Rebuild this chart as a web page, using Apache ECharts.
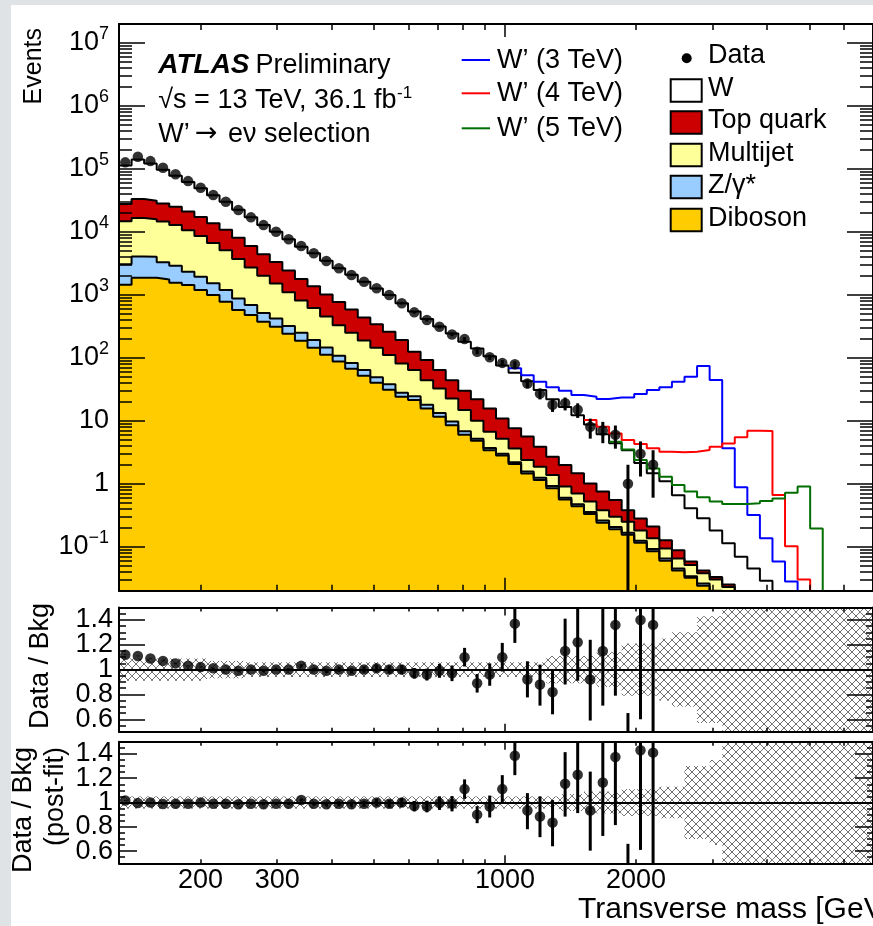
<!DOCTYPE html>
<html>
<head>
<meta charset="utf-8">
<title>W' to e nu transverse mass</title>
<script src="https://cdn.jsdelivr.net/npm/echarts@6/dist/echarts.min.js"></script>
<style>
html, body { margin: 0; padding: 0; background: #fff; }
#chart { width: 873px; height: 926px; }
</style>
</head>
<body>
<div id="chart"></div>
<script>
var dom = document.getElementById('chart');
var myChart = echarts.init(dom);

var FONT = '"Liberation Sans", Arial, Helvetica, sans-serif';

// 60 bins, equal width in log(mT), 130 GeV .. 7 TeV
var xMin = 130, xMax = 7000, nBins = 60;
var yMin = 0.02, yMax = 2e7;
var rMin = 0.5, rMax = 1.5;

// observed events per bin (bins 0..42)
var dataCounts = [127000, 156000, 133000, 104000, 82000, 64000, 50200, 38500, 30100, 22200,
    17000, 12800, 10050, 7620, 5960, 4560, 3440, 2640, 2060, 1610,
    1270, 993, 733, 527, 397, 311, 235, 198, 125, 102,
    83, 79, 39, 27, 18, 19, 15, 8, 7, 6,
    1, 3, 2];
var dataErr = [356, 395, 365, 322, 286, 253, 224, 196, 173, 149,
    130, 113, 100, 87, 77, 68, 59, 51, 45, 40,
    36, 32, 27, 23, 20, 18, 15, 14, 11, 10,
    9.1, 8.9, 6.2, 5.2, 4.2, 4.4, 3.9, 2.8, 2.6, 2.4,
    1.0, 1.7, 1.4];

// background expectation per bin (60 bins)
var bkgW = [85700, 107300, 90800, 69000, 53100, 41000, 32000, 24400, 19300, 14340,
    11050, 8510, 6730, 5180, 4000, 3190, 2460, 1874, 1498, 1175,
    920, 735, 542, 418, 322, 250, 198, 150, 118, 90.3,
    64.6, 50.1, 36.8, 26.8, 19.3, 14.5, 10.8, 7.7, 5.35, 3.85,
    3.02, 1.86, 1.26, 0.97, 0.57, 0.35, 0.24, 0.147, 0.088, 0.054,
    0.035, 0.022, 0.014, 0.0085, 0.005, 0.003, 0.002, 0.0013, 0.0008, 0.0005];
var bkgTop = [13000, 16600, 15300, 13600, 12100, 10500, 8600, 7030, 5680, 4360,
    3230, 2390, 1810, 1340, 980, 754, 559, 436, 332, 247,
    196, 147, 110, 61, 48, 31.4, 21.4, 15.2, 12, 9.0,
    5.7, 3.96, 3.22, 2.01, 1.32, 1.08, 0.76, 0.49, 0.37, 0.25,
    0.13, 0.10, 0.074, 0.033, 0.023, 0.007, 0.004, 0.003, 0.002, 0.001,
    0.0007, 0.0005, 0.0003, 0.0002, 0.0001, 0.0001, 0.0001, 0.0001, 0.0001, 0.0001];
var bkgMultijet = [11640, 12530, 11870, 11300, 10010, 8270, 6660, 5150, 3930, 2826,
    2031, 1484, 1088, 780, 561, 424, 305, 222, 167, 124,
    95, 73, 53, 39.5, 26, 19.3, 12.9, 8.0, 4.8, 3.0,
    2.2, 1.44, 0.82, 0.62, 0.45, 0.30, 0.23, 0.165, 0.12, 0.095,
    0.083, 0.056, 0.044, 0.029, 0.02, 0.017, 0.012, 0.01, 0.008, 0.0045,
    0.003, 0.002, 0.0012, 0.0008, 0.0005, 0.0003, 0.0002, 0.0001, 0.0001, 0.0001];
var bkgZ = [1610, 2200, 2160, 1550, 1330, 900, 750, 527, 414, 301,
    212, 142, 111, 79, 62, 47, 34, 21, 16, 12,
    9, 7, 3.8, 3.2, 2.3, 1.7, 1.2, 0.8, 0.4, 0.3,
    0.2, 0.15, 0.11, 0.09, 0.07, 0.04, 0.03, 0.025, 0.02, 0.015,
    0.012, 0.009, 0.007, 0.005, 0.003, 0.002, 0.002, 0.001, 0.001, 0.0005,
    0.0003, 0.0002, 0.0001, 0.0001, 0.0001, 0.0001, 0.0001, 0.0001, 0.0001, 0.0001];
var bkgDiboson = [1450, 1870, 1870, 1750, 1560, 1430, 1190, 993, 776, 573,
    477, 374, 311, 241, 187, 145, 112, 87, 67, 52,
    40, 31, 24, 21.3, 15.7, 11.6, 8.5, 6.0, 4.8, 3.4,
    2.8, 2.05, 1.45, 1.15, 0.85, 0.56, 0.44, 0.33, 0.24, 0.19,
    0.155, 0.115, 0.085, 0.06, 0.042, 0.032, 0.024, 0.019, 0.014, 0.009,
    0.006, 0.004, 0.0025, 0.0016, 0.001, 0.0006, 0.0004, 0.0003, 0.0002, 0.0001];

// W' signal + background, from the first bin where it leaves the background
var wp3First = 31;
var wp3Total = [68, 53, 41.7, 34, 30, 25.6, 24.1, 22.1, 23.5, 23.5,
    26.5, 30.7, 34, 41.7, 50, 74, 44.3, 3.65, 0.875, 0.318,
    0.136, 0.058, 0.028, 0.012, 0.006, 0.003, 0.002, 0.001, 0.0005];
var wp4First = 37;
var wp4Total = [10.3, 8.0, 6.3, 4.94, 4.27, 3.65, 3.22, 3.15, 3.22, 3.43,
    3.87, 4.37, 5.45, 6.93, 6.85, 0.66, 0.102, 0.030, 0.01, 0.005,
    0.003, 0.002, 0.001];
var wp5First = 39;
var wp5Total = [4.64, 3.5, 2.38, 1.75, 1.29, 0.95, 0.75, 0.61, 0.52, 0.475,
    0.475, 0.49, 0.53, 0.585, 0.72, 0.90, 0.195, 0.006, 0.003, 0.002, 0.001];

// data / background, pre-fit and post-fit, with error bar extents
var ratioPre = [1.12, 1.11, 1.09, 1.07, 1.05, 1.03, 1.02, 1.01, 1.0, 0.99,
    1.0, 0.99, 1.0, 1.0, 1.03, 1.0, 0.99, 1.0, 0.99, 1.0,
    1.01, 1.0, 1.0, 0.97, 0.96, 0.99, 0.97, 1.10, 0.89, 0.96,
    1.10, 1.37, 0.92, 0.88, 0.82, 1.15, 1.22, 0.92, 1.15, 1.36,
    0.29, 1.40, 1.36];
var ratioPreDn = [0.003, 0.003, 0.003, 0.003, 0.004, 0.004, 0.005, 0.005, 0.006, 0.007,
    0.008, 0.009, 0.01, 0.011, 0.013, 0.015, 0.017, 0.02, 0.022, 0.025,
    0.028, 0.032, 0.037, 0.042, 0.048, 0.056, 0.063, 0.075, 0.075, 0.09,
    0.115, 0.155, 0.144, 0.17, 0.18, 0.27, 0.31, 0.33, 0.44, 0.57,
    0.29, 0.8, 0.88];
var ratioPreUp = [0.003, 0.003, 0.003, 0.003, 0.004, 0.004, 0.005, 0.005, 0.006, 0.007,
    0.008, 0.009, 0.01, 0.011, 0.013, 0.015, 0.017, 0.02, 0.022, 0.025,
    0.028, 0.032, 0.037, 0.042, 0.048, 0.056, 0.063, 0.075, 0.075, 0.09,
    0.115, 0.155, 0.147, 0.16, 0.17, 0.26, 0.32, 0.32, 0.45, 0.5,
    0.36, 1.37, 1.8];
var ratioPost = [1.016, 0.995, 1.0, 0.987, 0.99, 0.99, 1.0, 0.99, 0.99, 0.985,
    0.99, 0.985, 0.99, 0.99, 1.02, 0.99, 0.985, 0.99, 0.985, 0.99,
    1.0, 0.99, 1.0, 0.97, 0.967, 0.995, 0.99, 1.11, 0.90, 0.967,
    1.11, 1.385, 0.934, 0.885, 0.835, 1.154, 1.228, 0.934, 1.165, 1.374,
    0.30, 1.43, 1.41];
var ratioPostDn = [0.003, 0.003, 0.003, 0.003, 0.004, 0.004, 0.005, 0.005, 0.006, 0.007,
    0.008, 0.009, 0.01, 0.011, 0.013, 0.015, 0.017, 0.02, 0.022, 0.025,
    0.028, 0.032, 0.037, 0.042, 0.048, 0.056, 0.063, 0.08, 0.07, 0.09,
    0.115, 0.16, 0.154, 0.17, 0.195, 0.27, 0.315, 0.33, 0.44, 0.56,
    0.30, 0.82, 0.93];
var ratioPostUp = [0.003, 0.003, 0.003, 0.003, 0.004, 0.004, 0.005, 0.005, 0.006, 0.007,
    0.008, 0.009, 0.01, 0.011, 0.013, 0.015, 0.017, 0.02, 0.022, 0.025,
    0.028, 0.032, 0.037, 0.042, 0.048, 0.056, 0.063, 0.08, 0.07, 0.09,
    0.115, 0.16, 0.143, 0.165, 0.185, 0.26, 0.33, 0.32, 0.45, 0.5,
    0.36, 1.4, 1.8];

// relative background uncertainty (half width of hatched band)
var bandPre = [0.09, 0.09, 0.09, 0.09, 0.09, 0.09, 0.09, 0.07, 0.07, 0.07,
    0.06, 0.06, 0.06, 0.06, 0.06, 0.06, 0.06, 0.06, 0.06, 0.06,
    0.06, 0.06, 0.06, 0.06, 0.06, 0.06, 0.06, 0.06, 0.06, 0.06,
    0.06, 0.06, 0.06, 0.06, 0.11, 0.11, 0.11, 0.11, 0.14, 0.14,
    0.21, 0.21, 0.21, 0.25, 0.3, 0.3, 0.43, 0.43, 0.8, 0.8,
    0.8, 0.8, 0.8, 0.8, 0.8, 0.8, 0.8, 0.8, 0.8, 0.8];
var bandPost = [0.05, 0.05, 0.05, 0.05, 0.05, 0.05, 0.05, 0.05, 0.05, 0.05,
    0.05, 0.05, 0.05, 0.05, 0.05, 0.05, 0.05, 0.05, 0.05, 0.05,
    0.05, 0.05, 0.05, 0.05, 0.05, 0.05, 0.05, 0.05, 0.05, 0.05,
    0.05, 0.05, 0.05, 0.05, 0.05, 0.07, 0.07, 0.09, 0.09, 0.09,
    0.11, 0.11, 0.11, 0.13, 0.13, 0.3, 0.3, 0.35, 0.8, 0.8,
    0.8, 0.8, 0.8, 0.8, 0.8, 0.8, 0.8, 0.8, 0.8, 0.8];

// tick and label positions
var xLabels = [200, 300, 1000, 2000];
var xMinorTicks = [200, 300, 400, 500, 600, 700, 800, 900, 2000, 3000, 4000, 5000, 6000, 7000];
var xMajorTicks = [1000];
var yMainLabels = [0.1, 1, 10, 100, 1e3, 1e4, 1e5, 1e6, 1e7];
var ratioLabels = [0.6, 0.8, 1, 1.2, 1.4];
var ratioMinor = [0.55, 0.65, 0.7, 0.75, 0.85, 0.9, 0.95, 1.05, 1.1, 1.15, 1.25, 1.3, 1.35, 1.45];

var yMainMinor = [];
for (var p = -2; p <= 6; p++) {
    for (var m = 2; m <= 9; m++) {
        var mv = m * Math.pow(10, p);
        if (mv > yMin * 0.999 && mv < yMax) yMainMinor.push(mv);
    }
}

var edges = [];
for (var i = 0; i <= nBins; i++) {
    edges.push(xMin * Math.pow(xMax / xMin, i / nBins));
}
var centers = [];
for (var i = 0; i < nBins; i++) {
    centers.push(Math.sqrt(edges[i] * edges[i + 1]));
}

// histogram outline: one point per left bin edge, closing at the last right edge
function stepData(vals, first) {
    var pts = vals.map(function (v, k) { return [edges[first + k], v]; });
    pts.push([edges[first + vals.length], vals[vals.length - 1]]);
    return pts;
}

// stack from the bottom: diboson, Z, multijet, top, W
var stackParts = [bkgDiboson, bkgZ, bkgMultijet, bkgTop, bkgW];
var stackSums = [];
var running = bkgW.map(function () { return 0; });
stackParts.forEach(function (part) {
    running = running.map(function (v, k) { return v + part[k]; });
    stackSums.push(running);
});

// cross hatch for the uncertainty band
var hatchCanvas = document.createElement('canvas');
hatchCanvas.width = 8;
hatchCanvas.height = 8;
var hctx = hatchCanvas.getContext('2d');
hctx.strokeStyle = '#707070';
hctx.lineWidth = 1;
hctx.beginPath();
hctx.moveTo(0, 0); hctx.lineTo(8, 8);
hctx.moveTo(8, 0); hctx.lineTo(0, 8);
hctx.stroke();
var hatch = { image: hatchCanvas, repeat: 'repeat' };

var grids = [
    { left: 119, top: 24, width: 757, height: 566.7 },
    { left: 119, top: 607.5, width: 757, height: 124.2 },
    { left: 119, top: 741.7, width: 757, height: 121.6 }
];
var tickLen = [
    { xMinor: 6, xMajor: 13, yMinor: 13, yMajor: 26 },
    { xMinor: 4, xMajor: 8, yMinor: 7, yMajor: 26 },
    { xMinor: 4, xMajor: 8, yMinor: 6, yMajor: 18 }
];

var labelFont = { color: '#000', fontFamily: FONT, fontSize: 27 };
var keepAll = { interval: 0, showMinLabel: true, showMaxLabel: true, hideOverlap: false };

function ratioLabel(values) {
    return Object.assign({
        show: true, customValues: values, margin: 6,
        formatter: function (v) { return v === 1 ? '1' : v.toFixed(1); }
    }, keepAll, labelFont);
}

var xAxes = [];
var yAxes = [];
grids.forEach(function (g, gi) {
    var t = tickLen[gi];
    ['bottom', 'top'].forEach(function (pos) {
        [[xMinorTicks, t.xMinor, true], [xMajorTicks, t.xMajor, false]].forEach(function (spec) {
            var withLabels = gi === 2 && pos === 'bottom' && spec[2];
            xAxes.push({
                type: 'log', logBase: 10, min: xMin, max: xMax,
                gridIndex: gi, position: pos, z: 10,
                axisLine: { show: spec[2], onZero: false, lineStyle: { color: '#000', width: 2 } },
                axisTick: { show: true, inside: true, length: spec[1], customValues: spec[0],
                    lineStyle: { color: '#000', width: 1.5 } },
                splitLine: { show: false },
                axisLabel: withLabels ? Object.assign({
                    show: true, customValues: xLabels, margin: 4,
                    formatter: function (v) { return String(Math.round(v)); }
                }, keepAll, labelFont) : { show: false }
            });
        });
    });
    var majorVals = gi === 0 ? yMainLabels : ratioLabels;
    var minorVals = gi === 0 ? yMainMinor : ratioMinor;
    ['left', 'right'].forEach(function (pos) {
        [[majorVals, t.yMajor, true], [minorVals, t.yMinor, false]].forEach(function (spec) {
            var ax = {
                type: gi === 0 ? 'log' : 'value',
                min: gi === 0 ? yMin : rMin, max: gi === 0 ? yMax : rMax,
                gridIndex: gi, position: pos, z: 10,
                axisLine: { show: spec[2], onZero: false, lineStyle: { color: '#000', width: 2 } },
                axisTick: { show: true, inside: true, length: spec[1], customValues: spec[0],
                    lineStyle: { color: '#000', width: 1.5 } },
                splitLine: { show: false },
                axisLabel: { show: false }
            };
            if (gi === 0) ax.logBase = 10;
            if (pos === 'left' && gi === 0 && spec[2]) {
                ax.axisLabel = Object.assign({
                    show: true, customValues: yMainLabels, margin: 10, lineHeight: 36,
                    formatter: function (v) {
                        var e = Math.round(Math.log10(v));
                        if (e === 0) return '1';
                        if (e === 1) return '10';
                        return '10{sup|' + (e < 0 ? '\u2212' + (-e) : e) + '}';
                    },
                    rich: { sup: { fontFamily: FONT, fontSize: 18, lineHeight: 18, verticalAlign: 'top', color: '#000' } }
                }, keepAll, labelFont);
            } else if (pos === 'left' && gi > 0) {
                // labels split over the two left axes so neighbours never collide
                ax.axisLabel = ratioLabel(ratioLabels.filter(function (v, k) {
                    return spec[2] ? k % 2 === 0 : k % 2 === 1;
                }));
            }
            yAxes.push(ax);
        });
    });
});

function errorBarItem(params, api) {
    var cs = params.coordSys;
    var x = api.value(0), lo = api.value(1), hi = api.value(2);
    var top = cs.y, bottom = cs.y + cs.height;
    var px = api.coord([x, hi])[0];
    var yHi = api.coord([x, hi])[1];
    var yLo = lo > 0 ? api.coord([x, lo])[1] : bottom;
    if (!isFinite(yLo)) yLo = bottom;
    yHi = Math.min(Math.max(yHi, top), bottom);
    yLo = Math.min(Math.max(yLo, top), bottom);
    return {
        type: 'line',
        shape: { x1: px, y1: yLo, x2: px, y2: yHi },
        style: { stroke: '#000', lineWidth: 3 }
    };
}

function bandItem(params, api) {
    var cs = params.coordSys;
    var p1 = api.coord([api.value(0), api.value(3)]);
    var p2 = api.coord([api.value(1), api.value(2)]);
    var rect = echarts.graphic.clipRectByRect(
        { x: p1[0], y: p1[1], width: p2[0] - p1[0], height: p2[1] - p1[1] },
        { x: cs.x, y: cs.y, width: cs.width, height: cs.height });
    return rect && { type: 'rect', shape: rect, style: { fill: hatch } };
}

var series = [];

var fillSpecs = [
    { name: 'W', sum: stackSums[4], color: '#ffffff' },
    { name: 'Top quark', sum: stackSums[3], color: '#cc0000' },
    { name: 'Multijet', sum: stackSums[2], color: '#ffff99' },
    { name: 'Z/γ*', sum: stackSums[1], color: '#99ccff' },
    { name: 'Diboson', sum: stackSums[0], color: '#ffcc00' }
];
fillSpecs.forEach(function (f) {
    series.push({
        name: f.name, type: 'line', xAxisIndex: 0, yAxisIndex: 0,
        step: 'end', data: stepData(f.sum, 0),
        showSymbol: false, symbol: 'none', silent: true, z: 2,
        lineStyle: { color: '#000', width: 2 },
        areaStyle: { color: f.color, opacity: 1, origin: 'start' }
    });
});

[
    ['W′ (3 TeV)', wp3First, wp3Total, '#0000ff'],
    ['W′ (4 TeV)', wp4First, wp4Total, '#ff0000'],
    ['W′ (5 TeV)', wp5First, wp5Total, '#006e00']
].forEach(function (s) {
    series.push({
        name: s[0], type: 'line', xAxisIndex: 0, yAxisIndex: 0,
        step: 'end', data: stepData(s[2], s[1]),
        showSymbol: false, symbol: 'none', silent: true, z: 4,
        lineStyle: { color: s[3], width: 2 }
    });
});

series.push({
    name: 'Data errors', type: 'custom', xAxisIndex: 0, yAxisIndex: 0, z: 6, silent: true,
    renderItem: errorBarItem, encode: { x: 0, y: [1, 2] },
    data: dataCounts.map(function (n, k) { return [centers[k], n - dataErr[k], n + dataErr[k]]; })
});
series.push({
    name: 'Data', type: 'scatter', xAxisIndex: 0, yAxisIndex: 0, z: 7, silent: true,
    symbol: 'circle', symbolSize: 10.5, itemStyle: { color: '#000' },
    data: dataCounts.map(function (n, k) { return [centers[k], n]; })
});

[[1, bandPre, ratioPre, ratioPreDn, ratioPreUp], [2, bandPost, ratioPost, ratioPostDn, ratioPostUp]].forEach(function (r) {
    var ai = 4 * r[0];
    series.push({
        type: 'custom', xAxisIndex: ai, yAxisIndex: ai, z: 2, silent: true,
        renderItem: bandItem, encode: { x: [0, 1], y: [2, 3] },
        data: r[1].map(function (h, k) { return [edges[k], edges[k + 1], 1 - h, 1 + h]; })
    });
    series.push({
        type: 'custom', xAxisIndex: ai, yAxisIndex: ai, z: 6, silent: true,
        renderItem: errorBarItem, encode: { x: 0, y: [1, 2] },
        data: r[2].map(function (v, k) { return [centers[k], v - r[3][k], v + r[4][k]]; })
    });
    series.push({
        type: 'scatter', xAxisIndex: ai, yAxisIndex: ai, z: 7, silent: true,
        symbol: 'circle', symbolSize: 10.5, itemStyle: { color: '#000' },
        data: r[2].map(function (v, k) { return [centers[k], v]; }),
        markLine: {
            silent: true, symbol: ['none', 'none'], label: { show: false }, animation: false,
            lineStyle: { color: '#000', width: 2, type: 'solid' },
            data: [{ yAxis: 1 }]
        }
    });
});

function txt(text, x, y, size, extra) {
    return {
        type: 'text', z: 100, silent: true,
        style: Object.assign({
            text: text, x: x, y: y, fill: '#000',
            font: size + 'px ' + FONT,
            textAlign: 'left', textVerticalAlign: 'middle'
        }, extra || {})
    };
}
function vtxt(text, x, y, size, align) {
    return {
        type: 'text', z: 100, silent: true, x: x, y: y, rotation: Math.PI / 2,
        style: { text: text, x: 0, y: 0, fill: '#000', font: size + 'px ' + FONT,
            textAlign: align, textVerticalAlign: 'middle' }
    };
}

var graphics = [
    { type: 'rect', z: 100, silent: true, shape: { x: 0, y: 0, width: 11, height: 926 }, style: { fill: '#dfe3e5' } },
    { type: 'rect', z: 100, silent: true, shape: { x: 0, y: 0, width: 873, height: 5 }, style: { fill: '#dfe3e5' } },
    txt('ATLAS', 158.3, 65.3, 27, { font: 'italic bold 28px ' + FONT }),
    txt('Preliminary', 255.5, 65.3, 27),
    txt('√s = 13 TeV, 36.1 fb', 158.3, 101, 27),
    txt('-1', 397, 93, 17),
    txt('W’', 158.3, 134.3, 27),
    txt('→', 195, 134.3, 27, { font: '27px "DejaVu Sans", sans-serif' }),
    txt('eν selection', 228, 134.3, 27),
    vtxt('Events', 34, 28, 25, 'right'),
    vtxt('Data / Bkg', 41, 603, 27, 'right'),
    vtxt('Data / Bkg', 24, 747, 27, 'right'),
    vtxt('(post-fit)', 56, 747, 27, 'right'),
    txt('Transverse mass [GeV]', 578, 910, 30)
];

// legend: signal lines
[['W’ (3 TeV)', '#0000ff', 60], ['W’ (4 TeV)', '#ff0000', 93.3], ['W’ (5 TeV)', '#006e00', 128.3]].forEach(function (l) {
    graphics.push({ type: 'line', z: 100, silent: true,
        shape: { x1: 461.7, y1: l[2], x2: 490, y2: l[2] }, style: { stroke: l[1], lineWidth: 2 } });
    graphics.push(txt(l[0], 497, l[2] + 0.5, 27));
});
// legend: data and stacked backgrounds
graphics.push({ type: 'circle', z: 100, silent: true, shape: { cx: 686.7, cy: 58.3, r: 5 }, style: { fill: '#000' } });
graphics.push(txt('Data', 708, 56, 27));
[['W', '#ffffff', 90.5], ['Top quark', '#cc0000', 122.5], ['Multijet', '#ffff99', 155],
 ['Z/γ*', '#99ccff', 187], ['Diboson', '#ffcc00', 220]].forEach(function (l) {
    graphics.push({ type: 'rect', z: 100, silent: true,
        shape: { x: 670.7, y: l[2] - 11.2, width: 31, height: 22.4 },
        style: { fill: l[1], stroke: '#000', lineWidth: 2 } });
    graphics.push(txt(l[0], 708, l[2] - 1.5, 27));
});

var option = {
    animation: false,
    backgroundColor: '#ffffff',
    grid: grids.map(function (g) {
        return { left: g.left, top: g.top, width: g.width, height: g.height, containLabel: false, show: false };
    }),
    xAxis: xAxes,
    yAxis: yAxes,
    series: series,
    graphic: { elements: graphics }
};

if (option && typeof option === 'object') {
    myChart.setOption(option);
}
</script>
</body>
</html>
